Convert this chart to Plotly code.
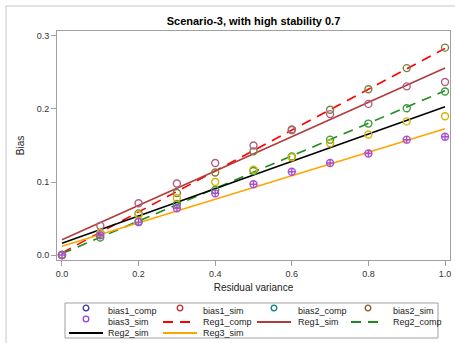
import plotly.graph_objects as go

# ---------------- data ----------------
resid_var = [0.0, 0.1, 0.2, 0.3, 0.4, 0.5, 0.6, 0.7, 0.8, 0.9, 1.0]

bias1_comp = [0.0, 0.030, 0.055, 0.078, 0.100, 0.117, 0.134, 0.153, 0.165, 0.183, 0.190]
bias1_sim = [0.0, 0.040, 0.071, 0.098, 0.126, 0.150, 0.171, 0.193, 0.207, 0.231, 0.237]
bias2_comp = [0.0, 0.024, 0.046, 0.070, 0.089, 0.115, 0.135, 0.158, 0.180, 0.201, 0.224]
bias2_sim = [0.0, 0.030, 0.057, 0.085, 0.113, 0.142, 0.172, 0.199, 0.227, 0.256, 0.284]
bias3_sim = [0.0, 0.027, 0.045, 0.064, 0.0845, 0.097, 0.114, 0.126, 0.139, 0.158, 0.162]

reg_x = [0.0, 1.0]
reg1_comp = [0.003, 0.283]
reg1_sim = [0.021, 0.256]
reg2_comp = [0.002, 0.225]
reg2_sim = [0.016, 0.203]
reg3_sim = [0.012, 0.173]

legend_labels = ["bias1_comp", "bias1_sim", "bias2_comp", "bias2_sim",
                 "bias3_sim", "Reg1_comp", "Reg1_sim", "Reg2_comp",
                 "Reg2_sim", "Reg3_sim"]

FONT = "Liberation Sans, Arial, sans-serif"
DASH = "10px,7px"

# ---------------- figure ----------------
W, H = 455, 343
ML, MR, MT, MB = 57, 5, 31, 83
PW, PH = W - ML - MR, H - MT - MB

fig = go.Figure()

line_series = [
    ("Reg1_comp", reg1_comp, "#ff0000", DASH),
    ("Reg1_sim", reg1_sim, "#b03c3c", "solid"),
    ("Reg2_comp", reg2_comp, "#1e8c1e", DASH),
    ("Reg2_sim", reg2_sim, "#000000", "solid"),
    ("Reg3_sim", reg3_sim, "#ffa500", "solid"),
]
for name, ys, col, dash in line_series:
    fig.add_trace(go.Scatter(x=reg_x, y=ys, mode="lines", name=name,
                             line=dict(color=col, width=1.6, dash=dash),
                             showlegend=False))

marker_series = [
    ("bias2_sim", bias2_sim, "#7f8040", "circle-open"),
    ("bias1_sim", bias1_sim, "#b0607f", "circle-open"),
    ("bias2_comp", bias2_comp, "#3c9c3c", "circle-open"),
    ("bias1_comp", bias1_comp, "#d4b400", "circle-open"),
    ("bias3_sim", bias3_sim, "#a850d0", "circle-cross-open"),
]
for name, ys, col, sym in marker_series:
    fig.add_trace(go.Scatter(x=resid_var, y=ys, mode="markers", name=name,
                             marker=dict(symbol=sym, size=7, color=col,
                                         line=dict(color=col, width=1.4)),
                             showlegend=False))

# ---------------- custom legend (4 columns x 3 rows) ----------------
def px(x):
    return (x - ML) / PW

def py(y):
    return (MT + PH - y) / PH

legend_style = {
    "bias1_comp": ("marker", "#3c3ca8", None),
    "bias1_sim": ("marker", "#c03030", None),
    "bias2_comp": ("marker", "#008080", None),
    "bias2_sim": ("marker", "#8b5a2b", None),
    "bias3_sim": ("marker", "#a040e0", None),
    "Reg1_comp": ("line", "#ff0000", DASH),
    "Reg1_sim": ("line", "#b03c3c", "solid"),
    "Reg2_comp": ("line", "#1e8c1e", DASH),
    "Reg2_sim": ("line", "#000000", "solid"),
    "Reg3_sim": ("line", "#ffa500", "solid"),
}

shapes = []
annotations = []
# legend frame
shapes.append(dict(type="rect", xref="paper", yref="paper",
                   x0=px(65), x1=px(438), y0=py(338), y1=py(303),
                   line=dict(color="#a0a0a0", width=1), fillcolor="white"))
col_sym = [86, 180, 274, 368]
col_txt = [106, 201, 296, 391]
row_y = [311, 322, 333]
for i, lab in enumerate(legend_labels):
    r, c = divmod(i, 4)
    kind, col, dash = legend_style[lab]
    yc = row_y[r]
    xs = col_sym[c]
    if kind == "marker":
        shapes.append(dict(type="circle", xref="paper", yref="paper",
                           x0=px(xs - 2.8), x1=px(xs + 2.8),
                           y0=py(yc - 2.8 - 3), y1=py(yc + 2.8 - 3),
                           line=dict(color=col, width=1.3)))
    else:
        shapes.append(dict(type="line", xref="paper", yref="paper",
                           x0=px(xs - 17), x1=px(xs + 17), y0=py(yc), y1=py(yc),
                           line=dict(color=col, width=1.8, dash=dash)))
    annotations.append(dict(text=lab, xref="paper", yref="paper",
                            x=px(col_txt[c]), y=py(yc), xanchor="left",
                            yanchor="middle", showarrow=False,
                            font=dict(family=FONT, size=9, color="#222222")))

# outer border
shapes.append(dict(type="rect", xref="paper", yref="paper",
                   x0=px(6), x1=px(470), y0=py(360), y1=py(6),
                   line=dict(color="#c8c8c8", width=1), layer="below"))

axis_common = dict(showgrid=False, zeroline=False, showline=True, mirror=True,
                   linecolor="#a0a0a0", linewidth=1, ticks="outside",
                   ticklen=5, tickcolor="#a0a0a0", tickwidth=1,
                   tickfont=dict(family=FONT, size=9, color="#333333"))

fig.update_layout(
    width=W, height=H, autosize=False,
    margin=dict(l=ML, r=MR, t=MT, b=MB, pad=0),
    paper_bgcolor="white", plot_bgcolor="white",
    showlegend=False,
    title=dict(text="Scenario-3, with high stability 0.7",
               x=(ML + PW / 2) / W, xanchor="center",
               y=1 - 21 / H, yanchor="middle",
               font=dict(family=FONT, size=11, color="#000000", weight="bold")),
    xaxis=dict(range=[-0.013, 1.013], tickvals=[0, 0.2, 0.4, 0.6, 0.8, 1.0],
               tickformat=".1f",
               title=dict(text="Residual variance", standoff=6,
                          font=dict(family=FONT, size=10, color="#222222")),
               **axis_common),
    yaxis=dict(range=[-0.0068, 0.3068], tickvals=[0, 0.1, 0.2, 0.3],
               tickformat=".1f",
               title=dict(text="Bias", standoff=10,
                          font=dict(family=FONT, size=10, color="#222222")),
               **axis_common),
    shapes=shapes,
    annotations=annotations,
)

fig.write_html("out.html")
